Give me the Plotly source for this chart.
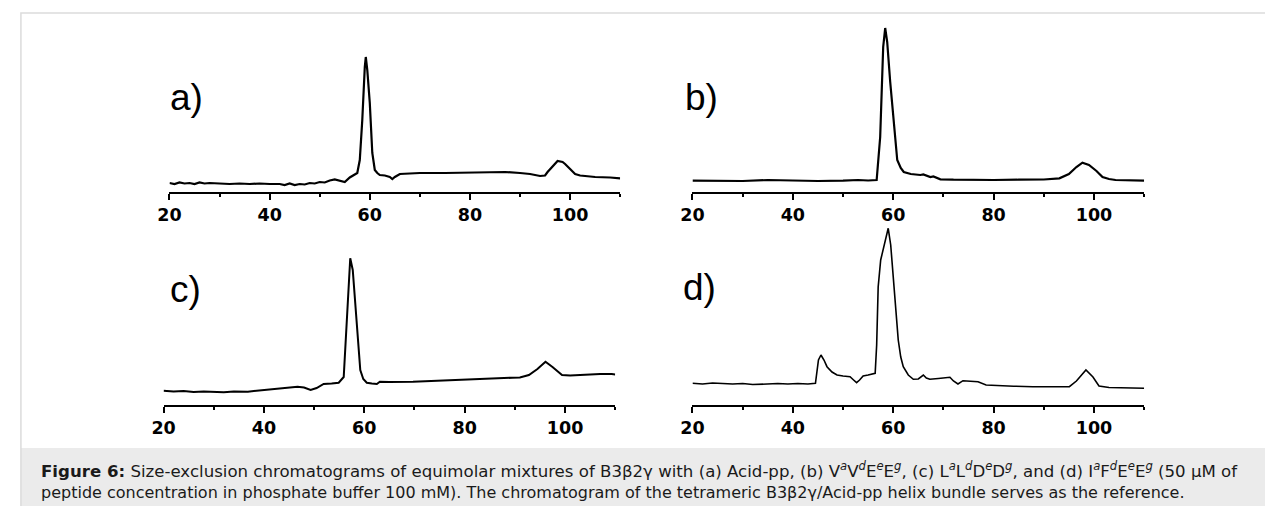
import plotly.graph_objects as go

W, H = 1265, 506

# ---------------- data (retention time, min ; relative absorbance, a.u.) ----------------
a_time = [20, 21, 22, 23, 24, 25, 26, 27, 28, 29, 30, 32, 34, 36, 38, 40, 42, 43, 44, 45, 46, 47, 48, 49,
          50, 51, 52, 53, 54, 55, 56, 57, 57.5, 58, 58.5, 59, 59.2, 59.5, 60, 60.5, 61, 61.5, 62, 63,
          64, 64.5, 65, 66, 68, 70, 75, 80, 85, 87, 90, 92, 94, 95, 95.5, 96.5, 97.5, 98.5, 99, 100,
          101, 102, 103, 105, 108, 110]
a_signal = [9, 8, 9.5, 8.5, 9, 8, 9.5, 8.5, 9, 8.5, 8.5, 8, 8.5, 8, 8.5, 8, 8, 7, 8.5, 7, 8, 7.5, 9, 8.5,
            10, 9.5, 11.5, 12.5, 11.5, 10, 14.5, 17, 19, 32, 72, 125, 135, 122, 89, 39, 22, 19, 17, 16.5,
            15, 13, 15, 18, 18.5, 19, 19, 19.5, 19.5, 20, 19, 18, 16, 16.5, 20, 26, 31, 30, 28, 23,
            18, 16.5, 16, 15, 14.5, 13.7]

b_time = [20, 25, 30, 35, 40, 45, 50, 53, 55, 56.7, 57.4, 58.0, 58.4, 58.8, 59.4, 60.1, 60.8, 61.5,
          62.1, 63.5, 65.4, 66, 67.4, 68, 69.4, 72, 75, 80, 85, 90, 93.1, 95, 96.5, 97.7, 99, 100.5,
          101.7, 103, 104.3, 107, 110]
b_signal = [11.3, 11.5, 11, 12, 11.3, 11, 11.3, 12, 11.5, 12, 55, 145, 164, 150, 110, 72, 32, 24,
            20, 18, 17, 17.5, 15, 15.5, 12.7, 12.3, 12, 12, 12.3, 12.5, 13.7, 18, 25, 29.3, 27, 21,
            15, 13, 12, 11.5, 11.3]

c_time = [20, 22, 24, 26, 28, 30.2, 32, 34, 36.8, 38, 40.1, 42, 44, 46.7, 48, 49.3, 50.5, 51.9, 53.5,
          54.9, 55.9, 56.5, 57.2, 57.7, 58.2, 58.7, 59.2, 59.8, 60.5, 61.5, 62.5, 63.1, 65, 69.7, 75,
          79.6, 85, 89.5, 91, 92.8, 94.5, 96.1, 97.5, 99.4, 101, 102.7, 105, 107, 109.3, 110]
c_signal = [14.3, 13.5, 14, 13, 13.5, 13.3, 12.8, 13.5, 13.3, 14, 15, 16, 17, 18.3, 17.5, 15, 17, 21, 21.5,
            22.3, 28, 85, 146.7, 135, 101.7, 65, 35, 26, 22.3, 21.5, 21, 23.3, 23, 23.3, 24.5,
            25.7, 26.5, 27.3, 27.5, 30, 36, 43.3, 38, 30, 29.5, 30, 30.5, 31, 31, 30.5]

d_time = [20, 22, 24, 26, 28, 30, 32, 34.9, 37, 39, 41, 43, 44.5, 45.1, 45.6, 46.2, 46.8, 47.8, 48.8,
          50, 51.4, 52.1, 52.7, 53.3, 54.0, 55, 56.4, 56.7, 57.0, 57.5, 58.0, 58.5, 59.0, 59.5, 60.0,
          60.5, 61.0, 61.5, 62.0, 63, 64.0, 65, 66.0, 66.6, 67.3, 69, 70.5, 71.3, 72, 72.9, 73.9,
          75.5, 76.9, 78.5, 80, 84, 87.8, 92, 95.1, 96.5, 98.4, 99.8, 101.0, 103, 106, 110]
d_signal = [21.7, 21, 22, 21.5, 21, 21.5, 20.5, 21, 21.5, 21, 21.5, 21, 21.7, 45, 50, 45, 38.3, 33, 30,
            29, 28.3, 25, 22.3, 25, 29, 30, 31.7, 60, 118, 145, 155, 165, 176.7, 160, 128,
            95, 65, 48, 38.3, 30, 25.7, 26, 30, 27, 25.7, 26.5, 27.5, 27.7, 24, 21, 24.3,
            24, 23.3, 20, 19.5, 18.8, 18.3, 18.3, 18.3, 24, 35, 28, 19, 17.5, 17, 16.7]

x_ticks = [20, 40, 60, 80, 100]
x_minor_ticks = [30, 50, 70, 90, 110]
panel_labels = ["a)", "b)", "c)", "d)"]

caption_line1 = ("<b>Figure 6:</b> Size-exclusion chromatograms of equimolar mixtures of B3β2γ with (a) Acid-pp, "
                 "(b) V<sup><i>a</i></sup>V<sup><i>d</i></sup>E<sup><i>e</i></sup>E<sup><i>g</i></sup>, "
                 "(c) L<sup><i>a</i></sup>L<sup><i>d</i></sup>D<sup><i>e</i></sup>D<sup><i>g</i></sup>, "
                 "and (d) I<sup><i>a</i></sup>F<sup><i>d</i></sup>E<sup><i>e</i></sup>E<sup><i>g</i></sup> (50 µM of")
caption_line2 = ("peptide concentration in phosphate buffer 100 mM). The chromatogram of the tetrameric "
                 "B3β2γ/Acid-pp helix bundle serves as the reference.")

# ---------------- layout helpers (pixel boxes -> paper fractions) ----------------
def px(x):
    return x / W

def py(y):
    return 1 - y / H

# (left, right, axis_y, top) in pixels for each panel
boxes = [(159, 614, 192, 20), (687, 1143, 192, 20), (153, 609, 405, 225), (687, 1143, 405, 225)]
label_pos = [(157, 97), (677, 97), (157, 289), (675, 287)]
series = [(a_time, a_signal), (b_time, b_signal), (c_time, c_signal), (d_time, d_signal)]
widths = [2.2, 2.2, 2.0, 1.6]

FONT = "Liberation Sans, Arial, sans-serif"
WIDE = "DejaVu Sans, Verdana, sans-serif"

fig = go.Figure()
layout = dict(
    width=W, height=H,
    margin=dict(l=0, r=0, t=0, b=0),
    paper_bgcolor="white", plot_bgcolor="rgba(0,0,0,0)",
    showlegend=False,
    font=dict(family=FONT, color="black"),
    shapes=[], annotations=[],
)

for i, ((l, r, ay, top), (t, s)) in enumerate(zip(boxes, series)):
    n = "" if i == 0 else str(i + 1)
    fig.add_trace(go.Scatter(x=t, y=s, mode="lines", line=dict(color="black", width=widths[i]),
                             xaxis="x" + n, yaxis="y" + n, hoverinfo="skip"))
    layout["xaxis" + n] = dict(
        domain=[px(l), px(r)], range=[20, 110], anchor="y" + n,
        showline=True, linecolor="black", linewidth=2, showgrid=False, zeroline=False,
        tickmode="array", tickvals=x_ticks, ticks="outside", ticklen=6, tickwidth=2, tickcolor="black",
        tickfont=dict(size=17.5, color="black", family=WIDE, weight="bold"),
        minor=dict(tickmode="array", tickvals=x_minor_ticks, ticks="outside", ticklen=3,
                   tickwidth=2, tickcolor="black", showgrid=False),
        fixedrange=True,
    )
    layout["yaxis" + n] = dict(
        domain=[py(ay), py(top)], range=[0, ay - top], anchor="x" + n,
        visible=False, fixedrange=True,
    )
    lx, ly = label_pos[i]
    layout["annotations"].append(dict(
        text=panel_labels[i], x=px(lx), y=py(ly), xref="paper", yref="paper",
        xanchor="left", yanchor="middle", showarrow=False,
        font=dict(size=37, color="black", family=FONT)))

# caption band and outer frame
layout["shapes"].append(dict(type="rect", xref="paper", yref="paper", x0=px(9), x1=px(1270),
                             y0=py(510), y1=py(448), fillcolor="#ebebeb", line=dict(width=0), layer="below"))
layout["shapes"].append(dict(type="rect", xref="paper", yref="paper", x0=px(9), x1=px(1270),
                             y0=py(510), y1=py(13), fillcolor="rgba(0,0,0,0)",
                             line=dict(color="#dcdcdc", width=1.5)))

for txt, yy, fs in [(caption_line1, 470, 16.6), (caption_line2, 492, 16.0)]:
    layout["annotations"].append(dict(
        text=txt, x=px(27), y=py(yy), xref="paper", yref="paper", xanchor="left", yanchor="middle",
        showarrow=False, font=dict(size=fs, color="#1a1a1a", family=WIDE)))

fig.update_layout(**layout)
fig.write_html("out.html", config={"displayModeBar": False, "staticPlot": True},
               post_script="document.body.style.margin='0';document.body.style.overflow='hidden';")
